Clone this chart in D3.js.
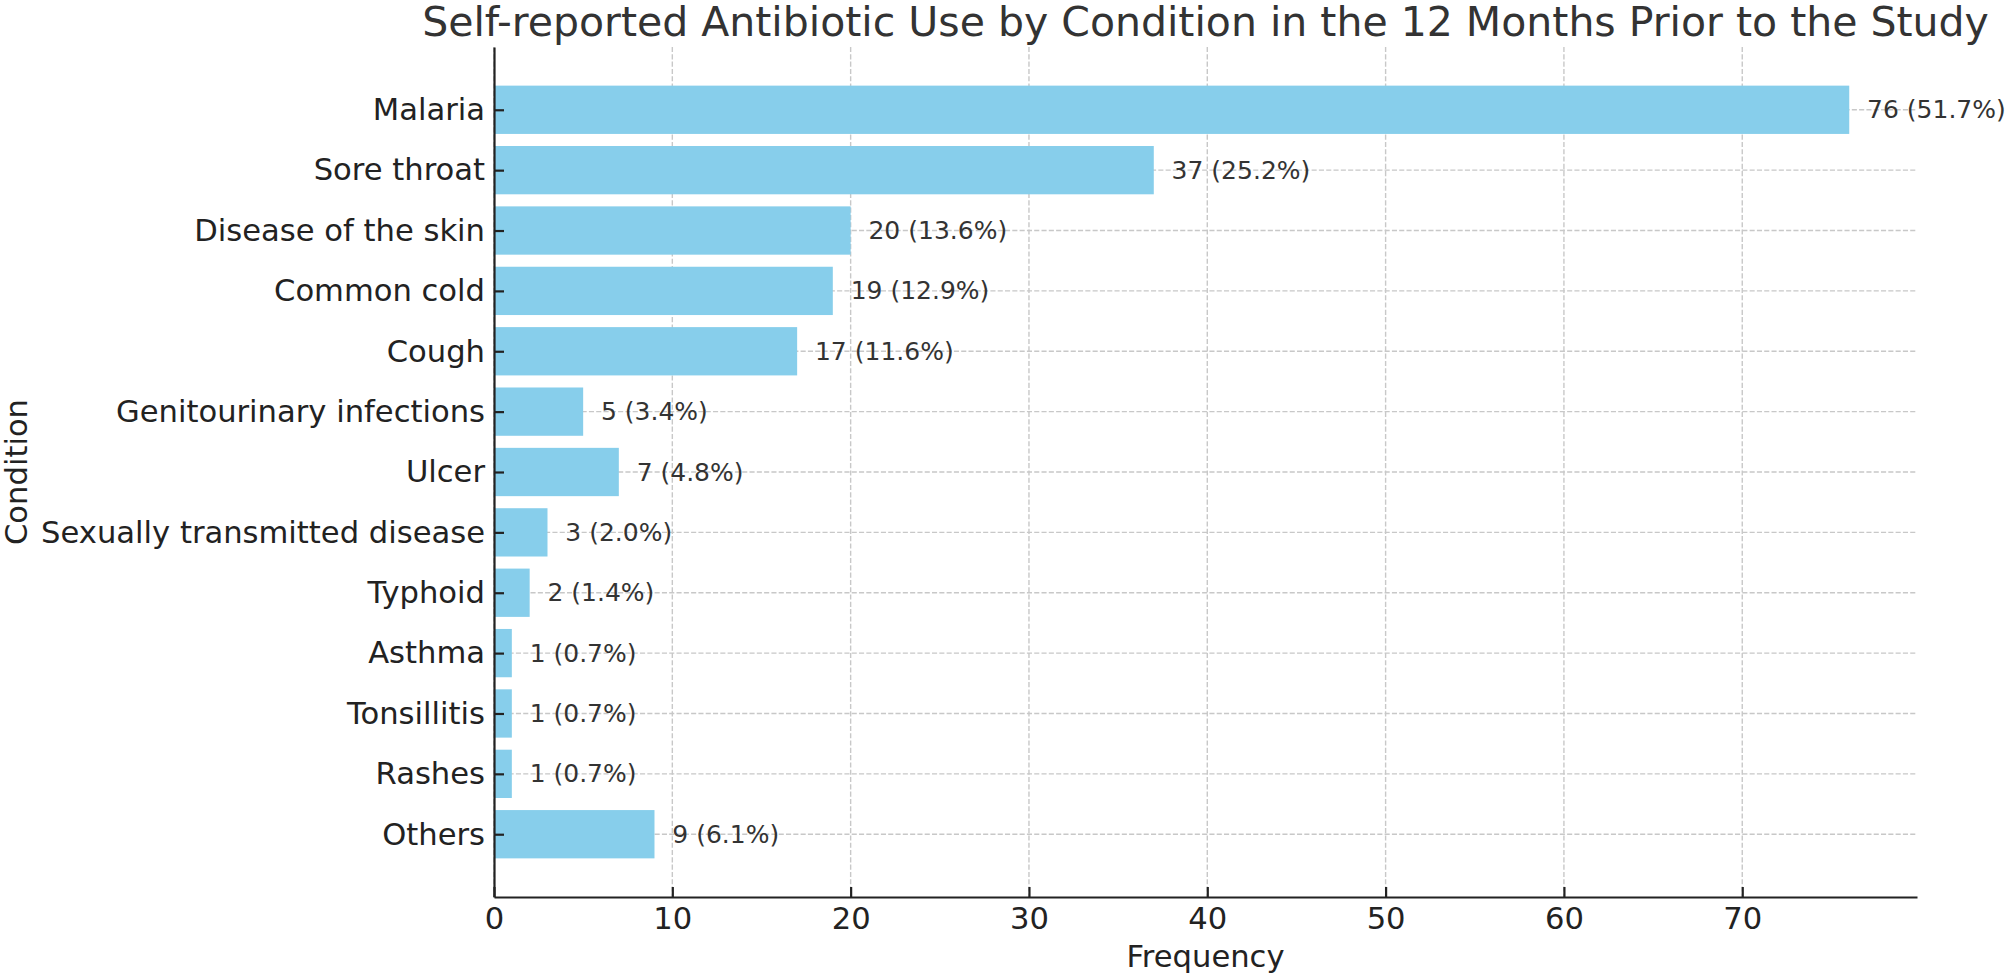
<!DOCTYPE html>
<html>
<head>
<meta charset="utf-8">
<script src="https://cdn.jsdelivr.net/npm/d3@7"></script>
<style>
  html, body { margin: 0; padding: 0; background: white; }
  svg { display: block; font-family: "DejaVu Sans", sans-serif; }
</style>
</head>
<body>
<svg id="chart"></svg>
<script>
// conditions, top to bottom
const conditions = [
    "Malaria", "Sore throat", "Disease of the skin", "Common cold", "Cough",
    "Genitourinary infections", "Ulcer", "Sexually transmitted disease",
    "Typhoid", "Asthma", "Tonsillitis", "Rashes", "Others"
];
const frequencies = [76, 37, 20, 19, 17, 5, 7, 3, 2, 1, 1, 1, 9];
const percents = [51.7, 25.2, 13.6, 12.9, 11.6, 3.4, 4.8, 2.0, 1.4, 0.7, 0.7, 0.7, 6.1];
const xTicks = [0, 10, 20, 30, 40, 50, 60, 70];

const width = 2008;
const height = 978;
const margin = { top: 47, right: 91, bottom: 81, left: 494 };
const innerW = width - margin.left - margin.right;
const innerH = height - margin.top - margin.bottom;

const svg = d3.select("#chart")
    .attr("width", width)
    .attr("height", height);

const g = svg.append("g")
    .attr("transform", `translate(${margin.left},${margin.top})`);

// x-axis: frequency, matplotlib-style 5% margin on the right
const xScale = d3.scaleLinear()
    .domain([0, d3.max(frequencies) * 1.05])
    .range([0, innerW]);

// y: bar index, with margins like barh
const n = conditions.length;
const yScale = d3.scaleLinear()
    .domain([-0.4 - 0.64, n - 1 + 0.4 + 0.64])
    .range([0, innerH]);
const barH = yScale(0.8) - yScale(0);

//grid vertical
g.append("g")
    .selectAll("line")
    .data(xTicks)
    .enter()
    .append("line")
    .attr("x1", d => xScale(d))
    .attr("x2", d => xScale(d))
    .attr("y1", 0)
    .attr("y2", innerH)
    .style("stroke", "#c8c8c8")
    .style("stroke-width", 1.4)
    .style("stroke-dasharray", "5.1,2.2");

//grid horizontal
g.append("g")
    .selectAll("line")
    .data(conditions)
    .enter()
    .append("line")
    .attr("x1", 0)
    .attr("x2", innerW)
    .attr("y1", (d, i) => yScale(i))
    .attr("y2", (d, i) => yScale(i))
    .style("stroke", "#c8c8c8")
    .style("stroke-width", 1.4)
    .style("stroke-dasharray", "5.1,2.2");

//bars
g.selectAll("rect.bar")
    .data(frequencies)
    .enter()
    .append("rect")
    .attr("class", "bar")
    .attr("x", xScale(0))
    .attr("y", (d, i) => yScale(i) - barH / 2)
    .attr("width", d => xScale(d) - xScale(0))
    .attr("height", barH)
    .style("fill", "#87ceeb");

//value labels
g.selectAll("text.value")
    .data(frequencies)
    .enter()
    .append("text")
    .attr("class", "value")
    .attr("x", d => xScale(d + 1))
    .attr("y", (d, i) => yScale(i))
    .attr("dominant-baseline", "central")
    .style("font-size", "25px")
    .style("fill", "#333")
    .text((d, i) => `${d} (${percents[i].toFixed(1)}%)`);

// x axis
const xAxis = d3.axisBottom(xScale)
    .tickValues(xTicks)
    .tickSizeInner(-10)
    .tickSizeOuter(0)
    .tickPadding(10)
    .tickFormat(d3.format("d"));

const xAxisGroup = g.append("g")
    .attr("transform", `translate(0,${innerH})`)
    .style("font-size", "30.6px")
    .style("font-family", "DejaVu Sans");
xAxis(xAxisGroup);

// y axis
const yAxis = d3.axisLeft(yScale)
    .tickValues(d3.range(n))
    .tickSizeInner(-10)
    .tickSizeOuter(0)
    .tickPadding(9)
    .tickFormat(i => conditions[i]);

const yAxisGroup = g.append("g")
    .style("font-size", "30.6px")
    .style("font-family", "DejaVu Sans");
yAxis(yAxisGroup);

[xAxisGroup, yAxisGroup].forEach(ax => {
    ax.select(".domain").style("stroke", "#222").style("stroke-width", 2.2);
    ax.selectAll(".tick line").style("stroke", "#222").style("stroke-width", 2.2);
    ax.selectAll(".tick text").style("fill", "#222");
});
xAxisGroup.selectAll(".tick text").attr("dy", "0.71em");

// x-axis label
g.append("text")
    .attr("x", innerW / 2)
    .attr("y", innerH + 70)
    .attr("text-anchor", "middle")
    .style("font-size", "30.6px")
    .style("fill", "#222")
    .text("Frequency");

// y-axis label
g.append("text")
    .attr("transform", "rotate(-90)")
    .attr("x", -innerH / 2)
    .attr("y", -margin.left + 27)
    .attr("text-anchor", "middle")
    .style("font-size", "30.6px")
    .style("fill", "#222")
    .text("Condition");

// title
g.append("text")
    .attr("x", innerW / 2)
    .attr("y", -11)
    .attr("text-anchor", "middle")
    .style("font-size", "41px")
    .style("fill", "#333")
    .text("Self-reported Antibiotic Use by Condition in the 12 Months Prior to the Study");
</script>
</body>
</html>
